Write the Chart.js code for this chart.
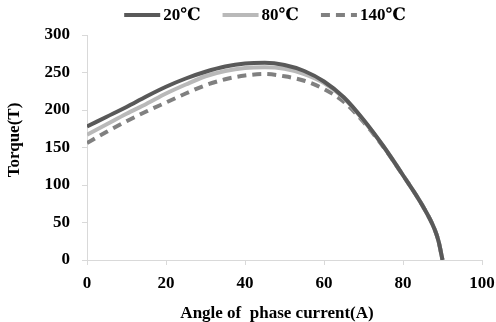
<!DOCTYPE html>
<html>
<head>
<meta charset="utf-8">
<script src="https://cdn.jsdelivr.net/npm/chart.js@4/dist/chart.umd.min.js"></script>
<style>
  html, body { margin: 0; padding: 0; background: #ffffff; }
  #wrap { width: 496px; height: 322px; }
</style>
</head>
<body>
<div id="wrap"><canvas id="c" width="496" height="322"></canvas></div>
<script>
// ---- data ----
const angles = [0, 5, 10, 15, 20, 25, 30, 35, 40, 45, 50, 55, 60, 65, 70, 75, 80, 85, 88, 89, 90];
const torque20  = [178, 191, 204, 218, 231, 242, 251, 258, 262, 263, 260, 252, 238, 217, 187, 152, 113, 72, 41, 25, 0];
const torque80  = [167, 181, 195, 208, 222, 234, 245, 252, 256, 257, 255, 248, 236, 216, 186, 152, 113, 72, 41, 25, 0];
const torque140 = [156, 171, 185, 198, 210, 222, 233, 241, 246, 248, 245, 239, 228, 211, 184, 151, 113, 72, 41, 25, 0];
const seriesLabels = ['20\u2103', '80\u2103', '140\u2103'];
const xTicks = [0, 20, 40, 60, 80, 100];
const yTicks = [0, 50, 100, 150, 200, 250, 300];
const xTitle = 'Angle of  phase current(A)';
const yTitle = 'Torque(T)';

const FONT = "'Liberation Serif', 'Times New Roman', 'DejaVu Serif', serif";
const AXIS_COLOR = '#d9d9d9';

function pts(ys) { return angles.map((a, i) => ({ x: a, y: ys[i] })); }

const decorPlugin = {
  id: 'decor',
  afterDraw(chart) {
    const ctx = chart.ctx;
    const ds = chart.data.datasets;
    ctx.save();
    ctx.font = 'bold 17px ' + FONT;
    ctx.textBaseline = 'middle';
    ctx.textAlign = 'left';
    // legend
    const lineLen = 36, textGap = 3, itemGap = 22, y = 15;
    const widths = ds.map(d => lineLen + textGap + ctx.measureText(d.label).width);
    const total = widths.reduce((a, b) => a + b, 0) + itemGap * (ds.length - 1);
    let x = 265 - total / 2;
    ds.forEach((d, i) => {
      ctx.strokeStyle = d.borderColor;
      ctx.lineWidth = 4;
      ctx.setLineDash(d.borderDash || []);
      ctx.beginPath();
      ctx.moveTo(x, y);
      ctx.lineTo(x + lineLen, y);
      ctx.stroke();
      ctx.setLineDash([]);
      ctx.fillStyle = '#000000';
      ctx.fillText(d.label, x + lineLen + textGap, y + 1);
      x += widths[i] + itemGap;
    });
    // axis titles
    ctx.textAlign = 'center';
    ctx.fillText(xTitle, 277, 314);
    ctx.translate(15, 140);
    ctx.rotate(-Math.PI / 2);
    ctx.fillText(yTitle, 0, 0);
    ctx.restore();
  }
};

new Chart(document.getElementById('c'), {
  type: 'line',
  data: {
    datasets: [
      { label: seriesLabels[0], data: pts(torque20), borderColor: '#595959', borderWidth: 4, pointRadius: 0, cubicInterpolationMode: 'monotone', fill: false },
      { label: seriesLabels[1], data: pts(torque80), borderColor: '#b9b9b9', borderWidth: 4, pointRadius: 0, cubicInterpolationMode: 'monotone', fill: false },
      { label: seriesLabels[2], data: pts(torque140), borderColor: '#808080', borderWidth: 4, borderDash: [9, 6], pointRadius: 0, cubicInterpolationMode: 'monotone', fill: false }
    ]
  },
  options: {
    responsive: false,
    animation: false,
    devicePixelRatio: 1,
    layout: { padding: { left: 0, right: 14, top: 35, bottom: 0 } },
    plugins: { legend: { display: false }, tooltip: { enabled: false } },
    scales: {
      x: {
        type: 'linear', min: 0, max: 100,
        afterBuildTicks(s) { s.ticks = xTicks.map(v => ({ value: v })); },
        afterFit(s) { s.height = 62; s.paddingRight = 0; s.paddingLeft = 0; },
        grid: { drawOnChartArea: false, drawTicks: true, tickLength: 5, color: AXIS_COLOR },
        border: { color: AXIS_COLOR, width: 1 },
        ticks: { color: '#000', padding: 8, maxRotation: 0, font: { family: FONT, size: 17, weight: 'bold' } },
        title: { display: false }
      },
      y: {
        type: 'linear', min: 0, max: 300,
        afterBuildTicks(s) { s.ticks = yTicks.map(v => ({ value: v })); },
        afterFit(s) { s.width = 87; s.paddingTop = 0; s.paddingBottom = 0; },
        grid: { drawOnChartArea: false, drawTicks: true, tickLength: 5, color: AXIS_COLOR },
        border: { color: AXIS_COLOR, width: 1 },
        ticks: { color: '#000', padding: 12, font: { family: FONT, size: 17, weight: 'bold' } },
        title: { display: false }
      }
    }
  },
  plugins: [decorPlugin]
});
</script>
</body>
</html>
